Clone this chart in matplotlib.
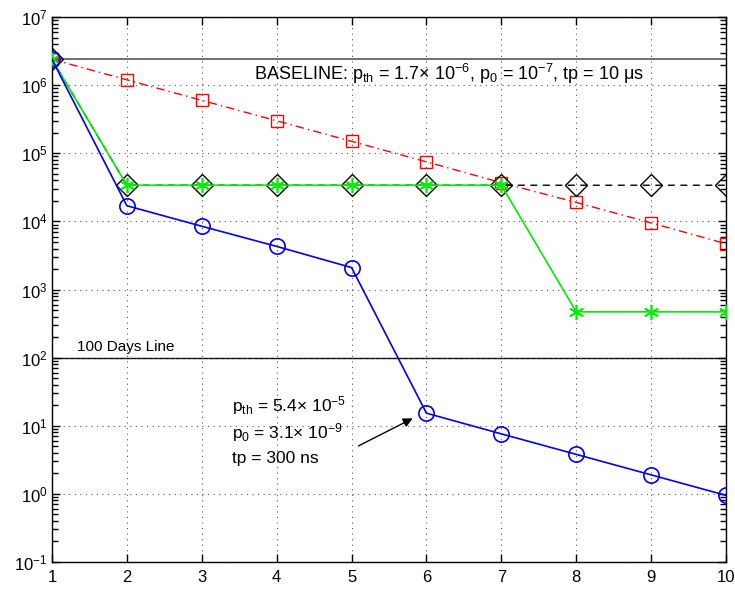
import numpy as np
import matplotlib.pyplot as plt
from matplotlib.ticker import FixedLocator, NullFormatter

plt.rcParams['font.family'] = ['Liberation Sans', 'DejaVu Sans']
plt.rcParams['mathtext.fontset'] = 'custom'
plt.rcParams['mathtext.rm'] = 'Liberation Sans'
plt.rcParams['mathtext.it'] = 'Liberation Sans'

# data
x = np.arange(1, 11)
red_y = [2.4e6, 1.2e6, 6.0e5, 3.0e5, 1.5e5, 7.5e4, 3.7e4, 1.9e4, 9.5e3, 4.7e3]
black_y = [2.4e6, 3.4e4, 3.4e4, 3.4e4, 3.4e4, 3.4e4, 3.4e4, 3.4e4, 3.4e4, 3.4e4]
green_y = [2.4e6, 3.4e4, 3.4e4, 3.4e4, 3.4e4, 3.4e4, 3.4e4, 470, 470, 470]
blue_y = [2.4e6, 1.7e4, 8.5e3, 4.3e3, 2.1e3, 15.3, 7.6, 3.8, 1.9, 0.95]
baseline = 2.4e6
days100 = 100

fig = plt.figure(figsize=(7.35, 5.9), dpi=100)
ax = fig.add_axes([0.0707, 0.0475, 0.9171, 0.9235])

# reference lines
ax.axhline(baseline, color='#555555', lw=1.2, zorder=1)
ax.axhline(days100, color='black', lw=1.0, zorder=1)

# series
ax.plot(x, red_y, color='red', ls=(0, (6, 3, 1, 3)), lw=1.0, marker='s',
        ms=8, mfc='none', mec='red', mew=1.0, zorder=3)
ax.plot(x, black_y, color='black', ls=(0, (5, 4)), lw=1.0, marker='D',
        ms=11, mfc='none', mec='black', mew=1.0, zorder=3)
ax.plot(x, green_y, color='#00ee00', ls='-', lw=1.2, marker=(6, 2, 0),
        ms=11, mec='#00ee00', mew=1.2, zorder=4)
ax.plot(x, blue_y, color='#0000ee', ls='-', lw=1.2, marker='o',
        ms=11, mfc='none', mec='#0000ee', mew=1.2, zorder=5)

# axes
ax.set_yscale('log')
ax.set_xlim(1, 10)
ax.set_ylim(1e-1, 1e7)
ax.set_xticks(x)
decades = np.arange(-1, 7)
ax.set_yticks(10.0 ** np.arange(-1, 8))
minor = [k * 10.0 ** d for d in decades for k in range(2, 10)]
ax.yaxis.set_minor_locator(FixedLocator(minor))
ax.yaxis.set_minor_formatter(NullFormatter())

ax.grid(True, which='major', ls=(0, (1, 4)), color='#555555', lw=0.8)
ax.tick_params(which='both', direction='in', top=True, right=True)
ax.tick_params(which='major', length=6, width=1.0, labelsize=12)
ax.tick_params(axis='x', which='major', pad=6)
ax.tick_params(axis='y', which='major', pad=3)
ax.tick_params(axis='y', which='minor', length=4, width=1.0, left=True, right=True)
for s in ax.spines.values():
    s.set_linewidth(1.0)

# text
ax.text(6.3, 1.2e6, r'BASELINE: p$_{\rm th}$ = 1.7$\times$ 10$^{-6}$, p$_0$ = 10$^{-7}$, tp = 10 $\mu$s',
        fontsize=13, ha='center', va='baseline')
ax.text(1.33, 115, '100 Days Line', fontsize=11, ha='left', va='bottom')

ax.text(3.4, 16, r'p$_{\rm th}$ = 5.4$\times$ 10$^{-5}$', fontsize=12.5, ha='left', va='baseline')
ax.text(3.4, 6.5, r'p$_0$ = 3.1$\times$ 10$^{-9}$', fontsize=12.5, ha='left', va='baseline')
ax.text(3.4, 2.8, 'tp = 300 ns', fontsize=12.5, ha='left', va='baseline')
ax.annotate('', xy=(5.85, 13.4), xytext=(5.06, 4.85),
            arrowprops=dict(arrowstyle='-|>', color='black', lw=1.0, mutation_scale=14))

fig.savefig('out.png', dpi=100)
